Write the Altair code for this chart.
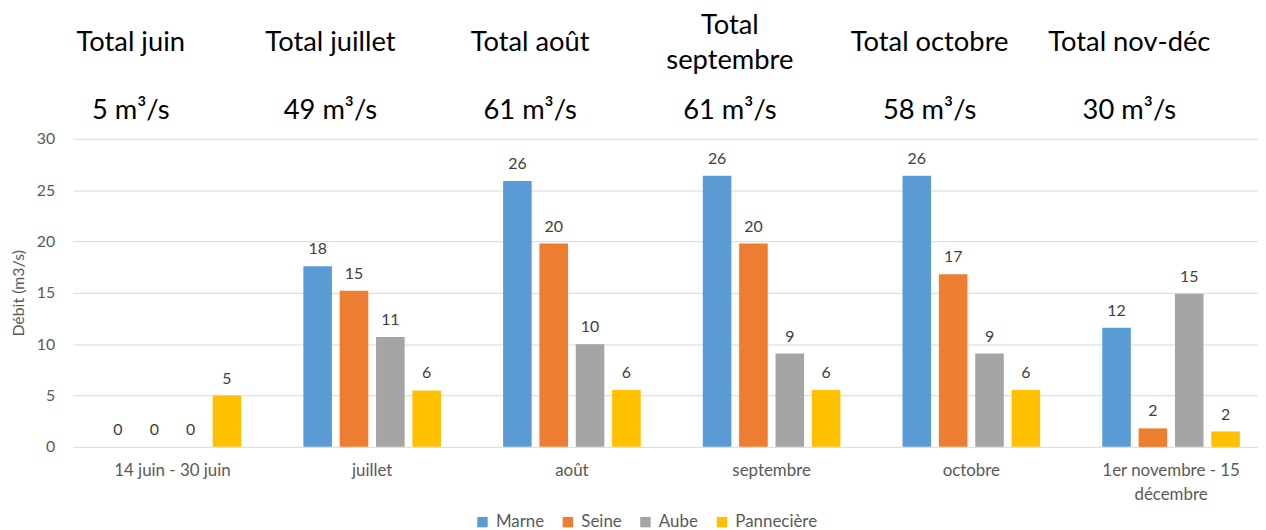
import altair as alt
import pandas as pd

categories = ["14 juin - 30 juin", "juillet", "août", "septembre", "octobre",
              "1er novembre - 15 décembre"]
series = ["Marne", "Seine", "Aube", "Pannecière"]
marne = [0, 17.6, 25.9, 26.4, 26.4, 11.6]
seine = [0, 15.2, 19.8, 19.8, 16.8, 1.8]
aube = [0, 10.7, 10.0, 9.1, 9.1, 14.9]
pann = [5.0, 5.5, 5.55, 5.55, 5.55, 1.5]
colors = ["#5B9BD5", "#ED7D31", "#A5A5A5", "#FFC000"]
total_titles = ["Total juin", "Total juillet", "Total août", "Total\nseptembre",
                "Total octobre", "Total nov-déc"]
y_ticks = [0, 5, 10, 15, 20, 25, 30]

FONT = "Lato"

rows = []
for s, vals in zip(series, [marne, seine, aube, pann]):
    for c, v in zip(categories, vals):
        rows.append({"periode": c, "barrage": s, "debit": v})
df = pd.DataFrame(rows)

totals = [sum(v) for v in zip(marne, seine, aube, pann)]
df_tot = pd.DataFrame({
    "periode": categories,
    "titre": total_titles,
    "total": [f"{round(t)} m³/s" for t in totals],
})

x_scale = alt.Scale(type="band", paddingInner=0.311, paddingOuter=0.1555)
x_axis = alt.Axis(
    title=None, labelAngle=0, domain=False, ticks=False, labelPadding=16,
    labelFontSize=17, labelColor="#595959", labelFont=FONT, labelLineHeight=24,
    labelOverlap=False, labelLimit=300,
    labelExpr="datum.value == '1er novembre - 15 décembre' ? ['1er novembre - 15', 'décembre'] : datum.label",
)
x_enc = alt.X("periode:N", sort=categories, scale=x_scale, axis=x_axis)
y_enc = alt.Y(
    "debit:Q", scale=alt.Scale(domain=[0, 30]),
    axis=alt.Axis(
        title="Débit (m3/s)", values=y_ticks, grid=True, gridColor="#d9d9d9",
        domain=False, ticks=False, labelPadding=18, labelFontSize=16,
        labelColor="#595959", labelFont=FONT, titleFont=FONT, titleFontSize=16,
        titleColor="#595959", titleFontWeight="normal", titlePadding=10,
    ),
)
xoff = alt.XOffset("barrage:N", sort=series,
                   scale=alt.Scale(paddingInner=0.214, paddingOuter=0))

base = alt.Chart(df).encode(x=x_enc, y=y_enc, xOffset=xoff)

bars = base.mark_bar().encode(
    color=alt.Color(
        "barrage:N", sort=series,
        scale=alt.Scale(domain=series, range=colors),
        legend=alt.Legend(
            title=None, orient="none", legendX=404, legendY=377,
            direction="horizontal", symbolType="square", symbolSize=110,
            symbolStrokeWidth=0, labelFontSize=17, labelColor="#595959",
            labelFont=FONT, columnPadding=15, labelOffset=5, padding=0,
        ),
    )
)

labels = base.mark_text(
    font=FONT, fontSize=16, color="#404040", baseline="middle", dy=-17
).encode(text=alt.Text("debit:Q", format=".0f"))

top_base = alt.Chart(df_tot).encode(
    x=alt.X("periode:N", sort=categories, scale=x_scale, axis=x_axis)
)
titles = top_base.transform_calculate(
    ty="-96 - 18 * (length(split(datum.titre, '\\n')) - 1)"
).mark_text(
    font=FONT, fontSize=27.5, color="#000000", baseline="middle", dx=-42,
    lineBreak="\n", lineHeight=36,
).encode(y=alt.Y("ty:Q", scale=None), text="titre:N")
tot_vals = top_base.mark_text(
    font=FONT, fontSize=27.5, color="#000000", baseline="middle", dx=-42,
).encode(y=alt.value(-28), text="total:N")

chart = alt.layer(bars, labels, titles, tot_vals).properties(
    width=1206, height=310,
    autosize=alt.AutoSizeParams(type="none"),
    padding={"left": 65, "top": 130, "right": -13, "bottom": 82},
).configure_view(strokeWidth=0)

chart.save("out.html", embed_options={"renderer": "svg", "actions": False})
